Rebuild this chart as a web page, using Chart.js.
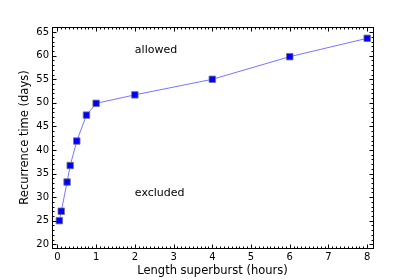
<!DOCTYPE html>
<html>
<head>
<meta charset="utf-8">
<script src="https://cdn.jsdelivr.net/npm/chart.js@4"></script>
<style>
  html, body { margin: 0; padding: 0; background: #fff; }
  #wrap { width: 415px; height: 280px; }
</style>
</head>
<body>
<div id="wrap"><canvas id="chart"></canvas></div>
<script>
// superburst length vs recurrence time
const hours = [0.05, 0.1, 0.25, 0.33, 0.5, 0.75, 1, 2, 4, 6, 8];
const days = [25.0, 27.0, 33.2, 36.7, 41.9, 47.4, 49.9, 51.7, 55.0, 59.8, 63.7];
const xTicks = [0, 1, 2, 3, 4, 5, 6, 7, 8];
const yTicks = [20, 25, 30, 35, 40, 45, 50, 55, 60, 65];
const noteText = ["allowed", "excluded"];
const noteX = [2, 2];
const noteY = [61.1, 30.8];

const FONT = "'DejaVu Sans', sans-serif";

// matplotlib-like frame with inward ticks on all sides
const framePlugin = {
  id: "frame",
  afterDraw(chart) {
    const { ctx, chartArea: a, scales: { x, y } } = chart;
    ctx.save();
    ctx.strokeStyle = "#000";
    ctx.lineWidth = 1;
    const L = Math.round(a.left) + 0.5, R = Math.round(a.right) + 0.5;
    const T = Math.round(a.top) + 0.5, B = Math.round(a.bottom) + 0.5;
    ctx.beginPath();
    for (let v = 0; v <= 80; v++) {
      const px = Math.round(x.getPixelForValue(v / 10)) + 0.5;
      const len = v % 10 === 0 ? 4 : 2;
      ctx.moveTo(px, B); ctx.lineTo(px, B - len);
      ctx.moveTo(px, T); ctx.lineTo(px, T + len);
    }
    for (let v = 20; v <= 66; v++) {
      const py = Math.round(y.getPixelForValue(v)) + 0.5;
      const len = v % 5 === 0 ? 4 : 2;
      ctx.moveTo(L, py); ctx.lineTo(L + len, py);
      ctx.moveTo(R, py); ctx.lineTo(R - len, py);
    }
    ctx.stroke();
    ctx.strokeRect(L, T, R - L, B - T);

    ctx.fillStyle = "#000";
    ctx.font = "11px " + FONT;
    ctx.textAlign = "left";
    ctx.textBaseline = "middle";
    noteText.forEach((t, i) => {
      ctx.fillText(t, x.getPixelForValue(noteX[i]), y.getPixelForValue(noteY[i]));
    });
    ctx.restore();
  },
};

new Chart(document.getElementById("chart"), {
  type: "scatter",
  data: {
    datasets: [
      {
        data: hours.map((h, i) => ({ x: h, y: days[i] })),
        showLine: true,
        borderColor: "rgba(60, 60, 255, 0.7)",
        borderWidth: 1,
        pointStyle: "rect",
        pointRadius: 4.6,
        pointBackgroundColor: "#0000ff",
        pointBorderColor: "#777",
        pointBorderWidth: 0.8,
      },
    ],
  },
  options: {
    responsive: true,
    maintainAspectRatio: false,
    animation: false,
    layout: { padding: { left: 0, right: 42, top: 27, bottom: 0 } },
    plugins: {
      legend: { display: false },
      tooltip: { enabled: false },
    },
    scales: {
      x: {
        type: "linear",
        min: -0.14,
        max: 8.15,
        afterBuildTicks: (s) => { s.ticks = xTicks.map((v) => ({ value: v })); },
        afterFit: (s) => { s.height = 32; },
        grid: { display: false, drawTicks: false },
        border: { display: false },
        ticks: { color: "#000", padding: 3, font: { family: FONT, size: 10 } },
        title: {
          display: true,
          text: "Length superburst (hours)",
          color: "#000",
          font: { family: FONT, size: 11.5 },
          padding: { top: 0, bottom: 2 },
        },
      },
      y: {
        min: 19.2,
        max: 66.1,
        afterBuildTicks: (s) => { s.ticks = yTicks.map((v) => ({ value: v })); },
        afterFit: (s) => { s.width = 52; },
        grid: { display: false, drawTicks: false },
        border: { display: false },
        ticks: { color: "#000", padding: 3, font: { family: FONT, size: 10 } },
        title: {
          display: true,
          text: "Recurrence time (days)",
          color: "#000",
          font: { family: FONT, size: 11.5 },
          padding: { top: 18, bottom: 0 },
        },
      },
    },
  },
  plugins: [framePlugin],
});
</script>
</body>
</html>
